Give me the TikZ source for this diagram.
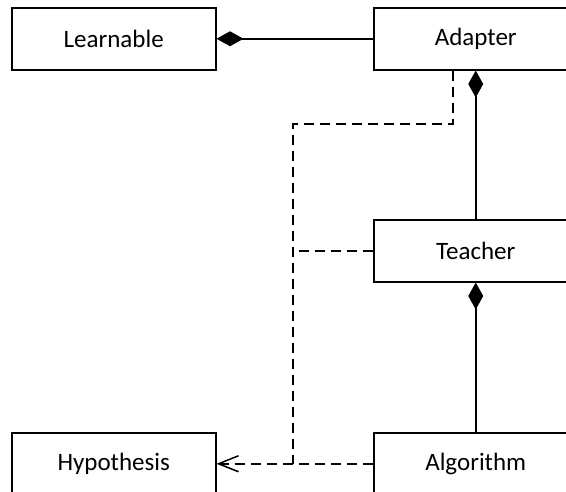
\documentclass[tikz,border=0pt]{standalone}
\usepackage{fontspec}
\setmainfont{Carlito}
\usetikzlibrary{arrows.meta}
\begin{document}
\begin{tikzpicture}[x=1pt,y=-1pt,
  classbox/.style={draw, line width=1.5pt, minimum width=204pt, minimum height=62pt,
    inner sep=0pt, font=\fontsize{25}{28}\selectfont, anchor=north west},
  solid link/.style={line width=1.5pt},
  dep/.style={line width=1.5pt, dash pattern=on 10pt off 6pt},
  compose/.style={{Diamond[length=27pt,width=15pt]}-},
  realize/.style={-{Straight Barb[length=20pt,width=16pt,line width=1.5pt]}}]
  \useasboundingbox (0,0) rectangle (566,491);

  % classes
  \node[classbox] (learnable)  at (11,7)   {Learnable};
  \node[classbox] (adapter)    at (373,7)  {Adapter};
  \node[classbox] (teacher)    at (373,219) {Teacher};
  \node[classbox] (hypothesis) at (11,432) {Hypothesis};
  \node[classbox] (algorithm)  at (373,432) {Algorithm};

  % compositions
  \draw[solid link, compose] (learnable.east) -- (adapter.west);
  \draw[solid link, compose] (adapter.south) -- (teacher.north);
  \draw[solid link, compose] (teacher.south) -- (algorithm.north);

  % dependencies on Hypothesis
  \coordinate (a1) at ([xshift=-23pt]adapter.south);
  \coordinate (a2) at (a1 |- 0,124);
  \coordinate (bus) at (293,124);
  \coordinate (join) at (bus |- hypothesis.east);
  \draw[dep] (a1) -- (a2) -- (bus) -- (join);
  \draw[dep] (teacher.west) -- (teacher.west -| bus);
  \draw[dep, realize] (algorithm.west) -- (hypothesis.east);
\end{tikzpicture}
\end{document}
